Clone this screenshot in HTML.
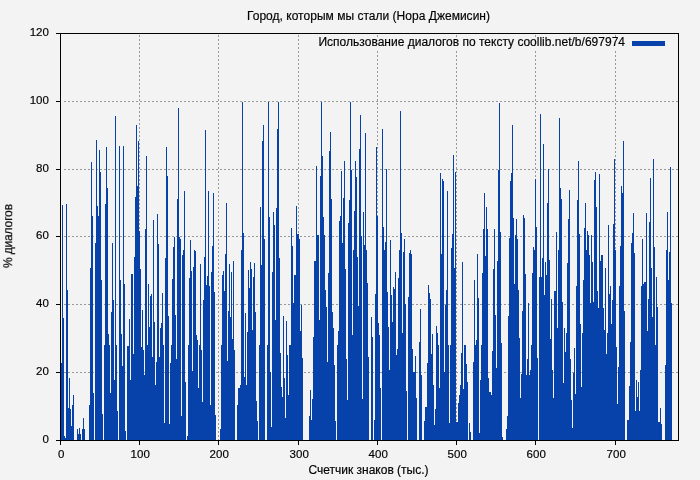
<!DOCTYPE html><html><head><meta charset="utf-8"><style>html,body{margin:0;padding:0;background:#f3f3f3;overflow:hidden}svg{display:block}text{font-family:"Liberation Sans",sans-serif;font-size:12px;fill:#000;stroke:#000;stroke-width:0.18px}</style></head><body>
<svg width="700" height="480" viewBox="0 0 700 480">
<rect width="700" height="480" fill="#f3f3f3"/>
<path d="M139.5 35V440M218.5 35V440M298.5 35V440M377.5 35V440M456.5 35V440M535.5 35V440M615.5 35V440M64 372.5H678M64 304.5H678M64 236.5H678M64 169.5H678M64 101.5H678" stroke="#999" stroke-width="1" stroke-dasharray="2 2" fill="none" shape-rendering="crispEdges"/>
<path d="M61.5 440V363M62.5 440V205M63.5 440V318M64.5 440V436M65.5 440V438M66.5 440V204M67.5 440V290M68.5 440V408M69.5 440V378M70.5 440V409M71.5 440V426M72.5 440V405M73.5 440V395M77.5 440V429M78.5 440V434M79.5 440V428M80.5 440V434M82.5 440V429M83.5 440V418M84.5 440V429M89.5 440V405M90.5 440V268M91.5 440V162M92.5 440V216M93.5 440V393M95.5 440V243M96.5 440V140M97.5 440V206M98.5 440V216M99.5 440V150M100.5 440V172M101.5 440V280M102.5 440V414M104.5 440V345M105.5 440V204M106.5 440V147M107.5 440V188M108.5 440V334M109.5 440V345M110.5 440V393M111.5 440V312M112.5 440V243M113.5 440V300M114.5 440V380M115.5 440V116M116.5 440V345M117.5 440V411M119.5 440V146M120.5 440V280M121.5 440V334M122.5 440V366M123.5 440V146M124.5 440V284M125.5 440V431M127.5 440V346M128.5 440V346M129.5 440V319M130.5 440V380M131.5 440V274M132.5 440V274M133.5 440V354M134.5 440V257M135.5 440V197M136.5 440V125M137.5 440V186M138.5 440V141M139.5 440V231M140.5 440V269M141.5 440V347M142.5 440V310M143.5 440V350M144.5 440V375M145.5 440V229M146.5 440V156M147.5 440V345M148.5 440V284M149.5 440V327M150.5 440V296M151.5 440V294M152.5 440V357M153.5 440V220M154.5 440V322M155.5 440V385M156.5 440V362M157.5 440V214M158.5 440V244M159.5 440V357M160.5 440V328M161.5 440V323M162.5 440V293M163.5 440V345M164.5 440V423M165.5 440V258M166.5 440V147M167.5 440V176M168.5 440V316M169.5 440V424M170.5 440V363M171.5 440V345M172.5 440V279M173.5 440V247M174.5 440V237M175.5 440V315M176.5 440V359M177.5 440V199M178.5 440V108M179.5 440V237M180.5 440V239M181.5 440V416M182.5 440V255M183.5 440V250M184.5 440V191M185.5 440V382M187.5 440V436M188.5 440V345M189.5 440V278M190.5 440V240M191.5 440V271M192.5 440V371M193.5 440V267M194.5 440V250M195.5 440V251M196.5 440V335M197.5 440V340M198.5 440V388M199.5 440V345M200.5 440V264M201.5 440V350M202.5 440V402M203.5 440V300M204.5 440V257M205.5 440V130M206.5 440V285M207.5 440V276M208.5 440V191M209.5 440V286M210.5 440V405M211.5 440V272M212.5 440V246M213.5 440V193M214.5 440V292M215.5 440V415M220.5 440V429M221.5 440V345M222.5 440V275M223.5 440V271M224.5 440V291M225.5 440V254M226.5 440V203M227.5 440V361M228.5 440V311M229.5 440V264M230.5 440V317M231.5 440V272M232.5 440V339M233.5 440V261M234.5 440V350M237.5 440V405M238.5 440V388M239.5 440V388M240.5 440V385M241.5 440V250M242.5 440V102M243.5 440V233M244.5 440V377M245.5 440V313M246.5 440V385M247.5 440V332M248.5 440V270M249.5 440V288M250.5 440V262M251.5 440V269M252.5 440V330M253.5 440V277M254.5 440V263M255.5 440V312M256.5 440V401M257.5 440V421M259.5 440V345M260.5 440V207M261.5 440V265M262.5 440V141M263.5 440V125M264.5 440V239M267.5 440V345M268.5 440V102M269.5 440V217M270.5 440V372M271.5 440V427M272.5 440V272M273.5 440V212M274.5 440V225M275.5 440V320M276.5 440V208M277.5 440V129M278.5 440V102M279.5 440V258M280.5 440V353M281.5 440V387M282.5 440V397M283.5 440V316M284.5 440V378M285.5 440V418M286.5 440V321M287.5 440V355M288.5 440V395M289.5 440V345M290.5 440V345M291.5 440V228M292.5 440V246M293.5 440V303M294.5 440V275M295.5 440V275M296.5 440V206M297.5 440V234M298.5 440V234M299.5 440V239M300.5 440V331M301.5 440V305M302.5 440V358M309.5 440V416M310.5 440V390M311.5 440V420M312.5 440V399M313.5 440V337M314.5 440V261M315.5 440V261M316.5 440V166M317.5 440V235M318.5 440V235M319.5 440V320M320.5 440V176M321.5 440V102M322.5 440V156M323.5 440V217M324.5 440V235M325.5 440V290M326.5 440V307M327.5 440V362M328.5 440V273M329.5 440V151M330.5 440V132M331.5 440V199M332.5 440V312M333.5 440V328M334.5 440V365M335.5 440V421M337.5 440V345M338.5 440V331M339.5 440V221M340.5 440V216M341.5 440V171M342.5 440V243M343.5 440V198M344.5 440V161M345.5 440V269M346.5 440V359M347.5 440V400M348.5 440V223M349.5 440V200M350.5 440V102M351.5 440V170M352.5 440V335M353.5 440V250M354.5 440V211M355.5 440V161M356.5 440V177M357.5 440V257M358.5 440V306M359.5 440V149M360.5 440V115M361.5 440V236M362.5 440V399M363.5 440V212M364.5 440V245M365.5 440V133M366.5 440V250M367.5 440V283M368.5 440V357M371.5 440V317M372.5 440V337M374.5 440V420M375.5 440V294M376.5 440V147M377.5 440V216M378.5 440V323M379.5 440V335M380.5 440V388M382.5 440V129M383.5 440V227M384.5 440V250M385.5 440V242M386.5 440V169M387.5 440V292M388.5 440V327M389.5 440V370M390.5 440V240M391.5 440V295M392.5 440V322M393.5 440V287M394.5 440V289M395.5 440V272M396.5 440V355M397.5 440V349M398.5 440V278M399.5 440V250M400.5 440V111M401.5 440V233M402.5 440V333M403.5 440V252M404.5 440V239M405.5 440V304M406.5 440V391M408.5 440V297M409.5 440V253M410.5 440V250M411.5 440V254M412.5 440V349M413.5 440V372M414.5 440V372M415.5 440V356M416.5 440V398M419.5 440V342M420.5 440V309M421.5 440V375M424.5 440V421M425.5 440V407M426.5 440V407M427.5 440V363M428.5 440V285M429.5 440V293M430.5 440V299M431.5 440V354M432.5 440V334M433.5 440V385M434.5 440V425M435.5 440V409M436.5 440V326M437.5 440V333M438.5 440V345M439.5 440V388M440.5 440V173M441.5 440V254M442.5 440V179M443.5 440V181M444.5 440V372M445.5 440V305M446.5 440V290M447.5 440V191M448.5 440V345M449.5 440V423M450.5 440V345M451.5 440V248M452.5 440V234M453.5 440V155M454.5 440V268M455.5 440V172M456.5 440V422M457.5 440V422M458.5 440V403M459.5 440V395M460.5 440V385M461.5 440V353M462.5 440V262M463.5 440V389M464.5 440V345M465.5 440V345M466.5 440V364M467.5 440V382M469.5 440V423M470.5 440V432M473.5 440V362M474.5 440V280M475.5 440V345M476.5 440V340M477.5 440V254M478.5 440V298M479.5 440V433M480.5 440V380M481.5 440V345M482.5 440V273M483.5 440V229M484.5 440V193M485.5 440V256M486.5 440V207M487.5 440V229M488.5 440V378M489.5 440V392M490.5 440V392M491.5 440V395M492.5 440V351M493.5 440V269M494.5 440V229M495.5 440V315M496.5 440V368M497.5 440V261M498.5 440V170M499.5 440V103M500.5 440V232M501.5 440V343M502.5 440V437M506.5 440V429M507.5 440V416M508.5 440V316M509.5 440V238M510.5 440V181M511.5 440V173M512.5 440V125M513.5 440V218M514.5 440V284M515.5 440V235M516.5 440V219M517.5 440V239M518.5 440V290M519.5 440V338M520.5 440V398M521.5 440V374M522.5 440V311M523.5 440V215M524.5 440V218M525.5 440V274M526.5 440V375M527.5 440V359M528.5 440V303M529.5 440V375M530.5 440V370M531.5 440V345M532.5 440V273M533.5 440V247M534.5 440V250M535.5 440V179M536.5 440V227M537.5 440V358M539.5 440V277M540.5 440V114M541.5 440V277M542.5 440V258M543.5 440V144M544.5 440V295M545.5 440V262M546.5 440V275M547.5 440V203M548.5 440V169M549.5 440V260M550.5 440V339M551.5 440V299M552.5 440V370M553.5 440V398M554.5 440V291M555.5 440V291M556.5 440V232M557.5 440V328M558.5 440V250M559.5 440V118M560.5 440V188M561.5 440V199M562.5 440V302M563.5 440V383M564.5 440V328M565.5 440V352M566.5 440V333M567.5 440V263M568.5 440V219M569.5 440V190M570.5 440V359M571.5 440V400M572.5 440V428M573.5 440V373M574.5 440V348M575.5 440V394M576.5 440V286M577.5 440V200M578.5 440V161M579.5 440V234M580.5 440V324M581.5 440V387M582.5 440V333M583.5 440V280M584.5 440V228M585.5 440V203M586.5 440V250M587.5 440V231M588.5 440V235M589.5 440V255M590.5 440V303M591.5 440V235M592.5 440V262M593.5 440V302M594.5 440V180M595.5 440V172M596.5 440V207M597.5 440V291M598.5 440V308M599.5 440V174M600.5 440V261M601.5 440V255M602.5 440V255M603.5 440V308M604.5 440V330M605.5 440V268M606.5 440V354M607.5 440V333M608.5 440V225M609.5 440V294M610.5 440V286M611.5 440V324M612.5 440V300M613.5 440V224M614.5 440V159M615.5 440V250M616.5 440V347M617.5 440V404M618.5 440V367M619.5 440V286M620.5 440V246M621.5 440V186M622.5 440V193M623.5 440V141M624.5 440V311M627.5 440V420M628.5 440V420M629.5 440V386M630.5 440V342M631.5 440V243M632.5 440V233M633.5 440V213M634.5 440V253M635.5 440V411M636.5 440V380M637.5 440V397M638.5 440V382M639.5 440V411M640.5 440V370M641.5 440V286M642.5 440V239M643.5 440V284M644.5 440V282M645.5 440V282M646.5 440V213M647.5 440V331M648.5 440V299M649.5 440V222M650.5 440V178M651.5 440V268M652.5 440V317M653.5 440V159M654.5 440V247M655.5 440V345M656.5 440V277M657.5 440V307M658.5 440V422M659.5 440V422M660.5 440V408M661.5 440V424M665.5 440V365M666.5 440V250M667.5 440V212M668.5 440V280M669.5 440V252M670.5 440V167M671.5 440V303" stroke="#0642aa" stroke-width="1" fill="none" shape-rendering="crispEdges"/>
<rect x="314" y="38" width="356" height="12" fill="#f3f3f3"/>
<rect x="632" y="41" width="33" height="5" fill="#0642aa"/>
<path d="M60.5 33.5H678.5V440.5H60.5ZM60.5 440V445M139.5 440V445M218.5 440V445M298.5 440V445M377.5 440V445M456.5 440V445M535.5 440V445M615.5 440V445M61 440.5H56M61 372.5H56M61 304.5H56M61 236.5H56M61 169.5H56M61 101.5H56M61 33.5H56" stroke="#000" stroke-width="1" fill="none" shape-rendering="crispEdges"/>
<g opacity="0.999">
<text x="61.2" y="458" text-anchor="middle" style="font-size:11.5px">0</text>
<text x="140.2" y="458" text-anchor="middle" style="font-size:11.5px">100</text>
<text x="219.2" y="458" text-anchor="middle" style="font-size:11.5px">200</text>
<text x="299.2" y="458" text-anchor="middle" style="font-size:11.5px">300</text>
<text x="378.2" y="458" text-anchor="middle" style="font-size:11.5px">400</text>
<text x="457.2" y="458" text-anchor="middle" style="font-size:11.5px">500</text>
<text x="536.2" y="458" text-anchor="middle" style="font-size:11.5px">600</text>
<text x="616.2" y="458" text-anchor="middle" style="font-size:11.5px">700</text>
<text x="48.9" y="443.3" text-anchor="end" style="font-size:11.5px">0</text>
<text x="48.9" y="375.3" text-anchor="end" style="font-size:11.5px">20</text>
<text x="48.9" y="307.3" text-anchor="end" style="font-size:11.5px">40</text>
<text x="48.9" y="239.3" text-anchor="end" style="font-size:11.5px">60</text>
<text x="48.9" y="172.3" text-anchor="end" style="font-size:11.5px">80</text>
<text x="48.9" y="104.3" text-anchor="end" style="font-size:11.5px">100</text>
<text x="48.9" y="36.3" text-anchor="end" style="font-size:11.5px">120</text>
<text x="368.5" y="20" text-anchor="middle" textLength="243" lengthAdjust="spacing">Город, которым мы стали (Нора Джемисин)</text>
<text x="625" y="46.2" text-anchor="end" textLength="306.5" lengthAdjust="spacing">Использование диалогов по тексту coollib.net/b/697974</text>
<text x="368.5" y="474" text-anchor="middle">Счетчик знаков (тыс.)</text>
<text transform="translate(12.2,236) rotate(-90)" text-anchor="middle" textLength="64" lengthAdjust="spacing">% диалогов</text>
</g>
</svg></body></html>
